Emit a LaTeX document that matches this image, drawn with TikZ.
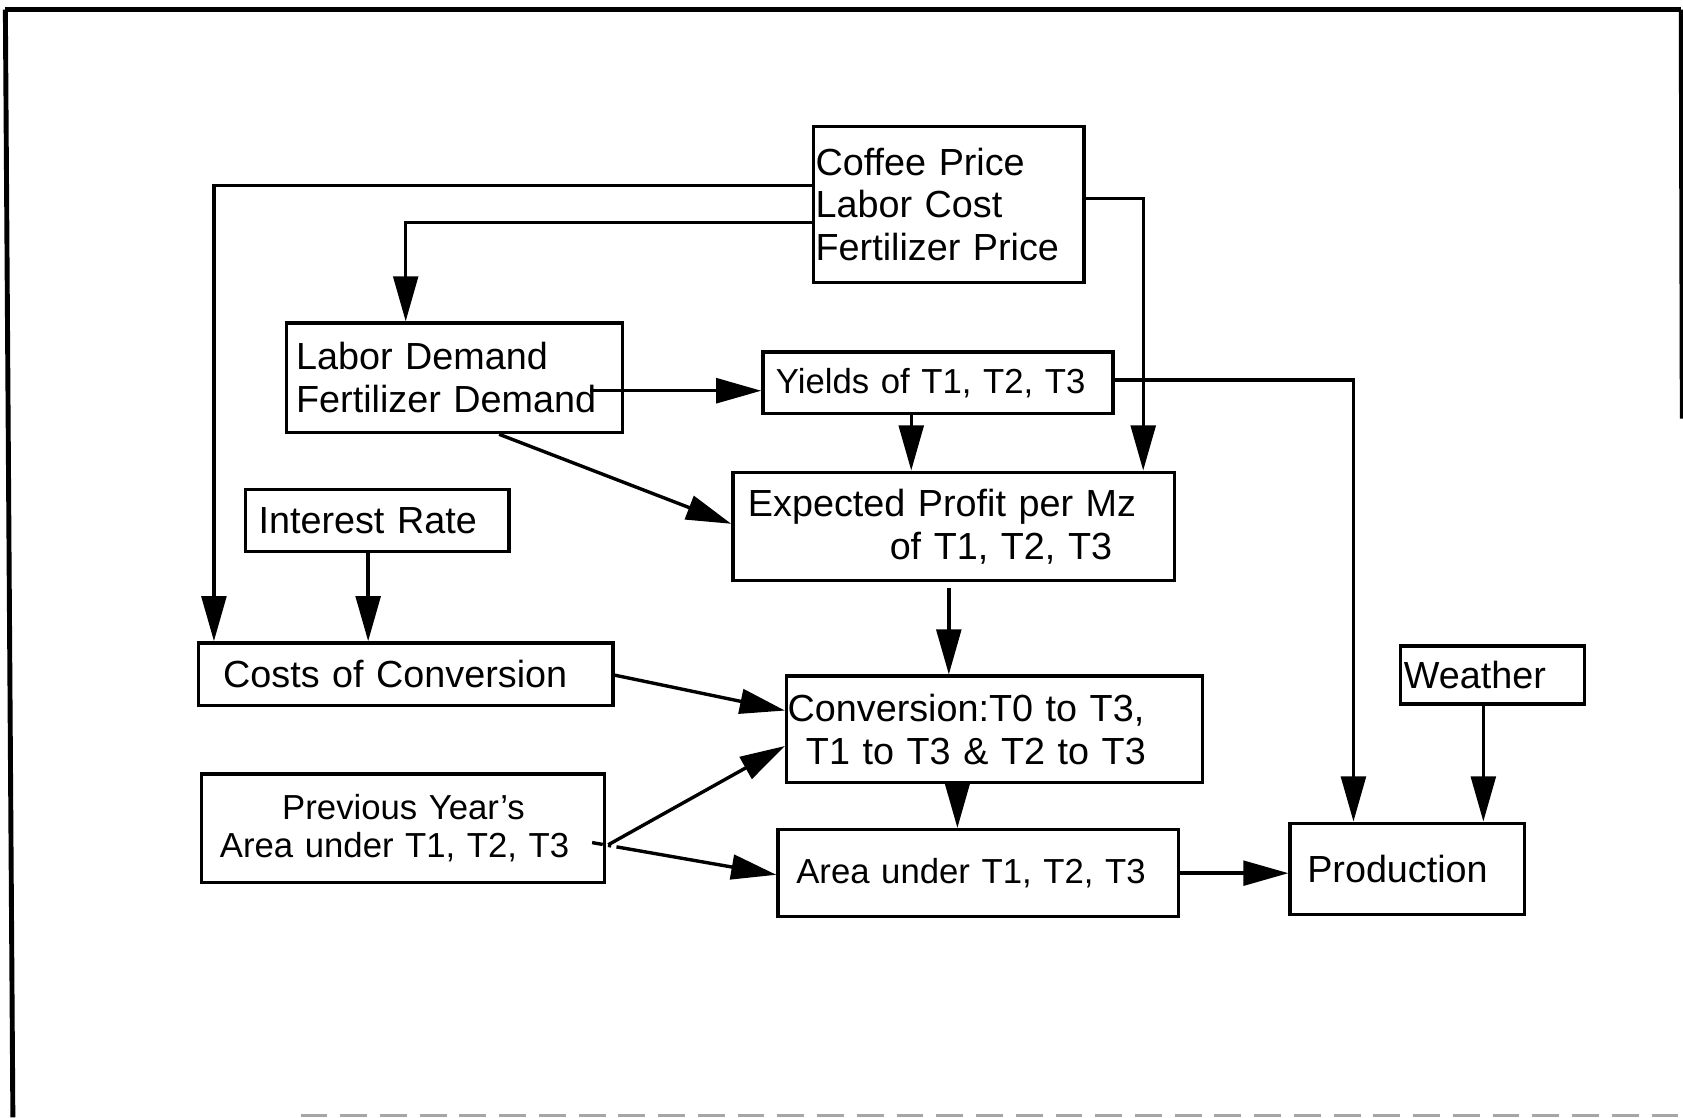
\documentclass[tikz,border=0pt]{standalone}
\usepackage{fontspec}
\setmainfont{Liberation Sans}
\usetikzlibrary{arrows.meta}
\begin{document}
\begin{tikzpicture}[x=0.01cm,y=-0.01cm,
  box/.style={draw, line width=0.9pt, rectangle, inner ysep=0pt, align=left, anchor=center, font=\fontsize{10}{11.3}\selectfont},
  small/.style={font=\fontsize{9.2}{9.9}\selectfont},
  arr/.style={line width=0.9pt, -{Triangle[length=0.42cm,width=0.23cm]}},
  frame/.style={line width=1.3pt}]

\useasboundingbox (0,0) rectangle (1568,1041);

% outer frame
\draw[frame] (5,9) -- (1566,9);
\draw[frame] (5,9) -- (12,1041);
\draw[line width=1.1pt] (1566,9) -- (1567,390);
\draw[line width=0.8pt, gray!70, dash pattern=on 0.25cm off 0.12cm] (280,1039) -- (1568,1039);

% boxes
\node[box, minimum width=2.52cm, minimum height=1.45cm, text width=2.48cm, inner xsep=0.02cm] (coffee) at (884,190.5)
  {Coffee Price\\Labor Cost\\Fertilizer Price};
\node[box, minimum width=3.13cm, minimum height=1.02cm, text width=2.95cm, inner xsep=0.09cm] (labor) at (423.5,352)
  {Labor Demand\\Fertilizer Demand};
\node[box, small, minimum width=3.26cm, minimum height=0.57cm, text width=3.02cm, inner xsep=0.12cm] (yields) at (874,356.5)
  {Yields of T1, T2, T3};
\node[box, minimum width=4.11cm, minimum height=1.01cm, text width=3.83cm, inner xsep=0.14cm] (expected) at (888.5,490.5)
  {Expected Profit per Mz\\\hspace*{1.32cm}of T1, T2, T3};
\node[box, minimum width=2.45cm, minimum height=0.58cm, text width=2.21cm, inner xsep=0.12cm] (interest) at (351.5,485)
  {Interest Rate};
\node[box, minimum width=3.86cm, minimum height=0.58cm, text width=3.40cm, inner xsep=0.23cm] (costs) at (378,628)
  {Costs of Conversion};
\node[box, minimum width=3.87cm, minimum height=0.99cm, text width=3.85cm, inner xsep=0.01cm] (conversion) at (926.5,679.5)
  {Conversion:T0 to T3,\\\hspace*{0.17cm}T1 to T3 \& T2 to T3};
\node[box, small, minimum width=3.75cm, minimum height=1.01cm, text width=3.41cm, inner xsep=0.17cm] (previous) at (375.5,771.5)
  {\hspace*{0.58cm}Previous Year{\char"0027}s\\Area under T1, T2, T3};
\node[box, small, minimum width=3.73cm, minimum height=0.81cm, text width=3.39cm, inner xsep=0.17cm] (area) at (911.5,813.5)
  {Area under T1, T2, T3};
\node[box, minimum width=1.71cm, minimum height=0.54cm, text width=1.65cm, inner xsep=0.03cm] (weather) at (1390.5,629)
  {Weather};
\node[box, minimum width=2.18cm, minimum height=0.85cm, text width=1.86cm, inner xsep=0.16cm] (production) at (1311,809.5)
  {Production};

% connectors
\draw[arr] ([yshift=0.175cm]coffee.west) -| ([xshift=0.16cm]costs.north west);
\draw[arr] ([yshift=-0.165cm]coffee.west) -| ([xshift=-0.455cm]labor.north);
\draw[arr] ([yshift=0.055cm]coffee.east) -| ([xshift=1.765cm]expected.north);
\coordinate (ldout) at ([xshift=-0.32cm,yshift=-0.12cm]labor.east);
\draw[arr] (ldout) -- (ldout -| yields.west);
\coordinate (yout) at ([xshift=-0.25cm]yields.south);
\draw[arr] (yout) -- (yout |- expected.north);
\draw[arr] ([yshift=0.025cm]yields.east) -| ([xshift=-0.5cm]production.north);
\draw[arr] ([xshift=0.415cm]labor.south) -- ([yshift=0.025cm]expected.west);
\coordinate (iout) at ([xshift=-0.085cm]interest.south);
\draw[arr] (iout) -- (iout |- costs.north);
\coordinate (eout) at ([xshift=-0.045cm,yshift=-0.05cm]expected.south);
\draw[arr] (eout) -- (eout |- conversion.north);
\draw[arr] ([yshift=-0.01cm]costs.east) -- ([yshift=0.175cm]conversion.west);
\draw[arr] ([xshift=0.02cm,yshift=-0.155cm]previous.east) -- ([yshift=-0.155cm]conversion.west);
\coordinate (cout) at ([xshift=-0.345cm]conversion.south);
\draw[arr] (cout) -- (cout |- area.north);
\draw[arr, dash pattern=on 0.1cm off 0.05cm on 0.03cm off 0.05cm on 5cm] ([xshift=-0.13cm,yshift=-0.135cm]previous.east) -- ([yshift=-0.015cm]area.west);
\draw[arr] (area.east) -- (area.east -| production.west);
\coordinate (wout) at ([xshift=-0.085cm]weather.south);
\draw[arr] (wout) -- (wout |- production.north);
\end{tikzpicture}
\end{document}
